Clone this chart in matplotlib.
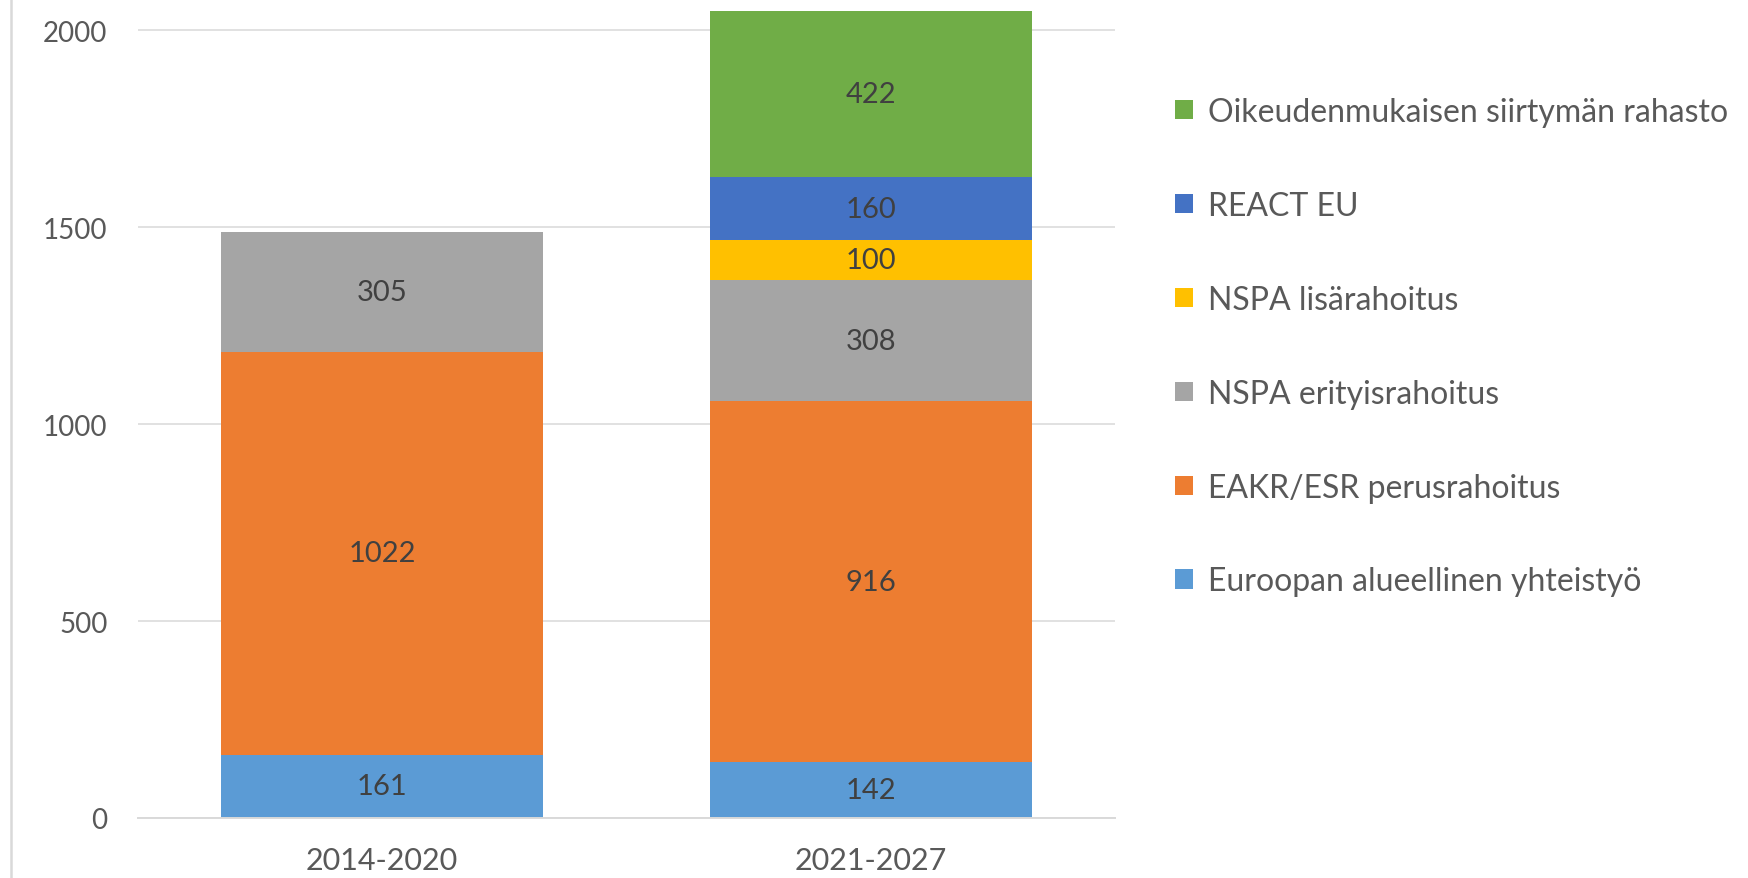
import numpy as np
import matplotlib.pyplot as plt
from matplotlib.lines import Line2D

# ── data ─────────────────────────────────────────
periods = ["2014-2020", "2021-2027"]
series_names = [
    "Euroopan alueellinen yhteistyö",
    "EAKR/ESR perusrahoitus",
    "NSPA erityisrahoitus",
    "NSPA lisärahoitus",
    "REACT EU",
    "Oikeudenmukaisen siirtymän rahasto",
]
eay = [161, 142]
eakr_esr = [1022, 916]
nspa_erit = [305, 308]
nspa_lisa = [0, 100]
react_eu = [0, 160]
jtf = [0, 422]

colors = ["#5B9BD5", "#ED7D31", "#A5A5A5", "#FFC000", "#4472C4", "#70AD47"]

plt.rcParams['font.family'] = ['Lato', 'DejaVu Sans']

fig = plt.figure(figsize=(17.49, 8.79), dpi=100)
ax = fig.add_axes([0.0789, 0.0683, 0.6375 - 0.0789, 1 - 0.0683])

x = np.arange(len(periods))
bottom = np.zeros(len(periods))
handles = []
for name, vals, c in zip(series_names, [eay, eakr_esr, nspa_erit, nspa_lisa, react_eu, jtf], colors):
    vals = np.array(vals, dtype=float)
    bars = ax.bar(x, vals, 0.66, bottom=bottom, color=c, label=name, zorder=2)
    handles.append(bars)
    for xi, v, b in zip(x, vals, bottom):
        if v > 0:
            ax.text(xi, b + v / 2, f"{int(v)}", ha='center', va='center',
                    fontsize=21, color='#404040', zorder=3)
    bottom += vals

ax.set_xlim(-0.5, 1.5)
ax.set_ylim(0, 2079)
ax.set_yticks([0, 500, 1000, 1500, 2000])
ax.set_xticks(x)
ax.set_xticklabels(periods)
ax.yaxis.grid(True, color='#d9d9d9', lw=1.1, zorder=0)
ax.set_axisbelow(True)
for s in ['top', 'right', 'left']:
    ax.spines[s].set_visible(False)
ax.spines['bottom'].set_color('#d9d9d9')
ax.spines['bottom'].set_linewidth(1.4)
ax.tick_params(axis='y', length=0, pad=22, labelsize=20, labelcolor='#595959')
ax.tick_params(axis='x', length=0, pad=20, labelsize=22, labelcolor='#595959')

# legend, top series first
ax.legend(handles[::-1], series_names[::-1], loc='upper left',
          bbox_to_anchor=(0.6718, 0.8885), bbox_transform=fig.transFigure,
          frameon=False, fontsize=23, labelcolor='#595959',
          handlelength=0.56, handleheight=0.56, handletextpad=0.47,
          labelspacing=2.0, borderpad=0, borderaxespad=0)

# thin border line at the left edge
fig.add_artist(Line2D([11 / 1749, 11 / 1749], [0, 1], color='#d9d9d9', lw=1.8,
                      transform=fig.transFigure))

plt.savefig("out.png", dpi=100)
plt.close()
